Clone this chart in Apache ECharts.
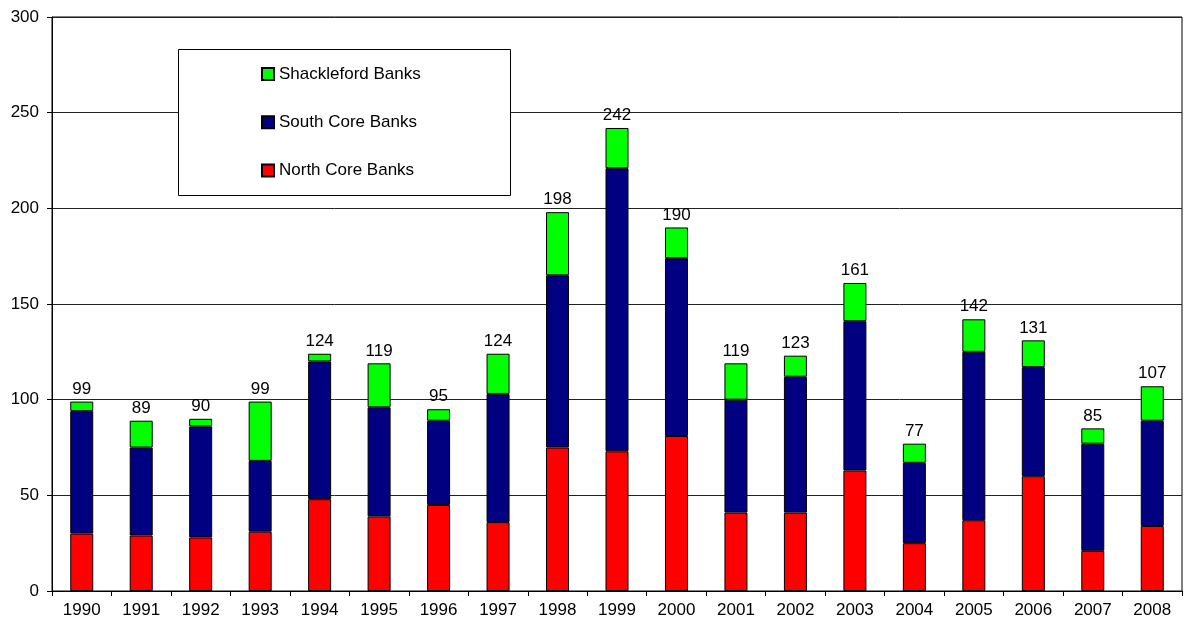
<!DOCTYPE html>
<html>
<head>
<meta charset="utf-8">
<script src="https://cdn.jsdelivr.net/npm/echarts@6/dist/echarts.min.js"></script>
<style>
html,body{margin:0;padding:0;background:#fff;}
#chart{width:1185px;height:624px;}
</style>
</head>
<body>
<div id="chart"></div>
<script>
var years = ['1990','1991','1992','1993','1994','1995','1996','1997','1998','1999','2000','2001','2002','2003','2004','2005','2006','2007','2008'];
var northCore = [30,29,28,31,48,39,45,36,75,73,81,41,41,63,25,37,60,21,34];
var southCore = [64,46,58,37,72,57,44,67,90,148,93,59,71,78,42,88,57,56,55];
var shackleford = [5,14,4,31,4,23,6,21,33,21,16,19,11,20,10,17,14,8,18];
var totals = [99,89,90,99,124,119,95,124,198,242,190,119,123,161,77,142,131,85,107];
var yTicks = {min:0, max:300, interval:50};

var FONT = 'Liberation Sans, Arial, sans-serif';
var chart = echarts.init(document.getElementById('chart'));
var barStyle = function(c){ return {color:c, borderColor:'#000', borderWidth:1}; };
chart.setOption({
  animation:false,
  backgroundColor:'#fff',
  grid:{left:52, right:3, top:17, bottom:33, show:true, borderColor:'#000', borderWidth:1, backgroundColor:'transparent'},
  graphic:[{
    type:'rect', left:178, top:49, z:10,
    shape:{width:332, height:146},
    style:{fill:'#fff', stroke:'#000', lineWidth:1}
  }],
  legend:{
    orient:'vertical', left:261, top:65.5, z:20, padding:0,
    data:['Shackleford Banks','South Core Banks','North Core Banks'],
    icon:'rect', itemWidth:12, itemHeight:12, itemGap:31.3,
    textStyle:{fontFamily:FONT, fontSize:17, color:'#000', lineHeight:17}
  },
  xAxis:{
    type:'category', data:years,
    axisLine:{lineStyle:{color:'#000'}},
    axisTick:{show:true, length:5, lineStyle:{color:'#000'}},
    axisLabel:{fontFamily:FONT, fontSize:17, color:'#000', margin:11, interval:0}
  },
  yAxis:{
    type:'value', min:yTicks.min, max:yTicks.max, interval:yTicks.interval,
    axisLine:{show:true, lineStyle:{color:'#000'}},
    axisTick:{show:true, length:5, lineStyle:{color:'#000'}},
    axisLabel:{fontFamily:FONT, fontSize:17, color:'#000', margin:13},
    splitLine:{lineStyle:{color:'#222', width:1}}
  },
  series:[
    {name:'North Core Banks', type:'bar', stack:'t', data:northCore, barWidth:23, itemStyle:barStyle('#FF0000')},
    {name:'South Core Banks', type:'bar', stack:'t', data:southCore, barWidth:23, itemStyle:barStyle('#000080')},
    {name:'Shackleford Banks', type:'bar', stack:'t', data:shackleford, barWidth:23, itemStyle:barStyle('#00FF00'),
      label:{show:true, position:'top', distance:4, fontFamily:FONT, fontSize:17, color:'#000',
        formatter:function(p){return totals[p.dataIndex];}}}
  ]
});
</script>
</body>
</html>
